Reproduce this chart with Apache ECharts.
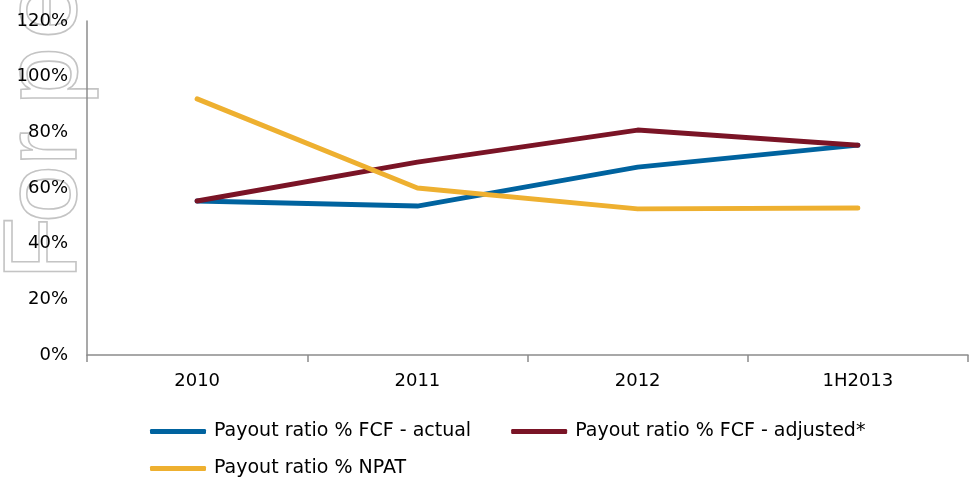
<!DOCTYPE html>
<html><head><meta charset="utf-8">
<script src="https://cdn.jsdelivr.net/npm/echarts@6/dist/echarts.min.js"></script>
<style>html,body{margin:0;padding:0;background:#fff}#c{width:969px;height:478px}</style>
</head><body><div id="c"></div>
<script>
const categories = ['2010', '2011', '2012', '1H2013'];
const fcfActual = [55.3, 53.5, 67.5, 75.4];
const fcfAdjusted = [55.3, 69.3, 80.8, 75.4];
const npat = [92.0, 60.0, 52.5, 52.8];
const seriesNames = ['Payout ratio % FCF - actual', 'Payout ratio % FCF - adjusted*', 'Payout ratio % NPAT'];
const colors = ['#00639F', '#7A1426', '#EEB030'];
const watermarkLetters = ['F', 'o', 'r', 'p', 'e'];

const chart = echarts.init(document.getElementById('c'));
const font = '"DejaVu Sans", Arial, sans-serif';
const wmAnchors = [280, 223, 166, 105, 39];
function mk(name, data, color) {
  return { name, type: 'line', data, symbol: 'none', smooth: false,
    lineStyle: { color, width: 5, cap: 'round', join: 'round' }, itemStyle: { color }, z: 3 };
}
const graphics = watermarkLetters.map((ch, i) => ({
  type: 'text', x: 99, y: wmAnchors[i], rotation: Math.PI / 2, z: -10, silent: true,
  style: { text: ch, font: '104px "Liberation Sans Narrow", "Liberation Sans", Arial, sans-serif', fill: 'rgba(0,0,0,0)', stroke: '#c4c4c4', lineWidth: 1.6, textAlign: 'left', textVerticalAlign: 'bottom' }
}));
chart.setOption({
  animation: false,
  textStyle: { fontFamily: font },
  grid: { left: 87, right: 1, top: 21, bottom: 123 },
  graphic: graphics,
  xAxis: {
    type: 'category', data: categories, boundaryGap: true,
    axisLine: { lineStyle: { color: '#8c8c8c', width: 1.5 } },
    axisTick: { show: true, length: 7, lineStyle: { color: '#8c8c8c', width: 1.5 } },
    axisLabel: { color: '#000', fontSize: 18, fontFamily: font, margin: 17 },
    splitLine: { show: false }
  },
  yAxis: {
    type: 'value', min: 0, max: 120, interval: 20,
    axisLine: { show: true, lineStyle: { color: '#8c8c8c', width: 1.5 } },
    axisTick: { show: false },
    axisLabel: { color: '#000', fontSize: 18, fontFamily: font, margin: 19, formatter: '{value}%' },
    splitLine: { show: false }
  },
  legend: [{
    data: [seriesNames[0], seriesNames[1]], left: 145, top: 417, orient: 'horizontal',
    itemWidth: 56, itemHeight: 5, itemGap: 40, icon: 'roundRect',
    textStyle: { color: '#000', fontSize: 19, fontFamily: font, padding: [0, 0, 0, 3] }
  }, {
    data: [seriesNames[2]], left: 145, top: 454, orient: 'horizontal',
    itemWidth: 56, itemHeight: 5, icon: 'roundRect',
    textStyle: { color: '#000', fontSize: 19, fontFamily: font, padding: [0, 0, 0, 3] }
  }],
  series: [mk(seriesNames[0], fcfActual, colors[0]), mk(seriesNames[1], fcfAdjusted, colors[1]), mk(seriesNames[2], npat, colors[2])]
});
</script></body></html>
